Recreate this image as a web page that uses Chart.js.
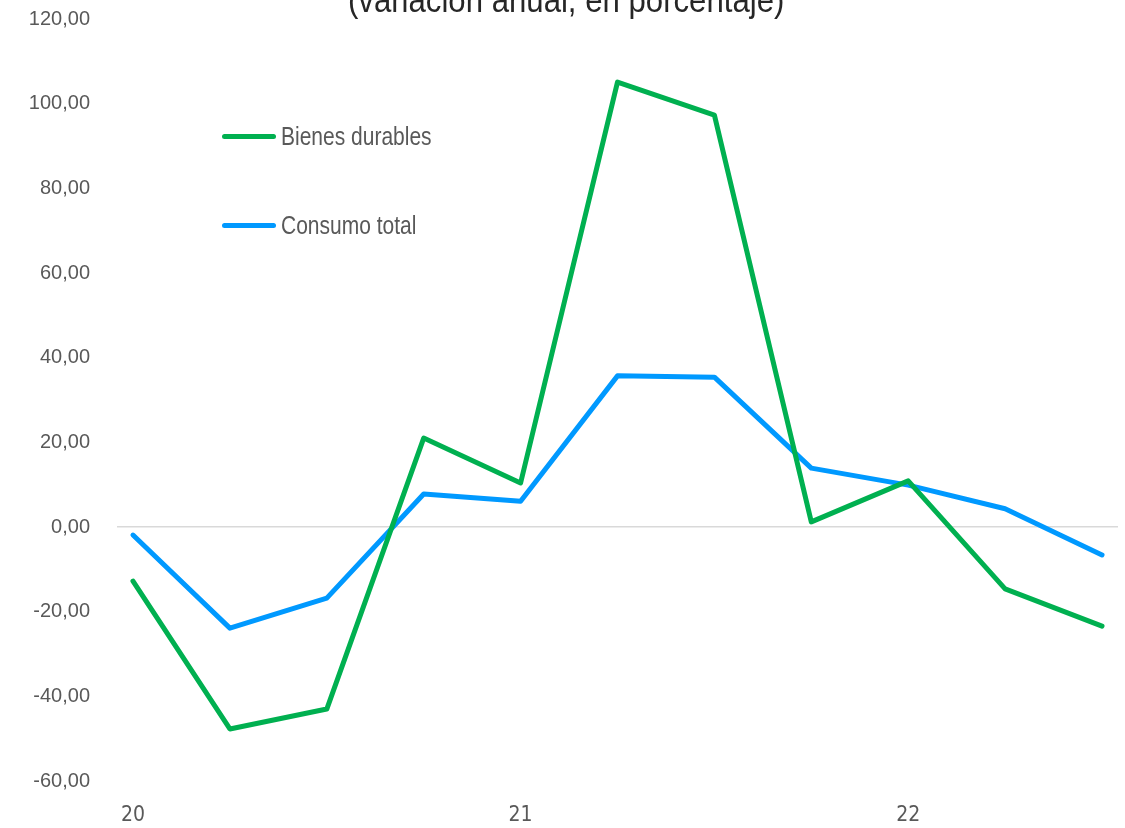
<!DOCTYPE html>
<html>
<head>
<meta charset="utf-8">
<script src="https://cdn.jsdelivr.net/npm/chart.js@4/dist/chart.umd.min.js"></script>
<style>
  html, body { margin: 0; padding: 0; background: #fff; }
  #wrap { position: relative; width: 1125px; height: 828px; overflow: hidden; }
  #title {
    position: absolute; left: 0; width: 1132px; top: -20px; text-align: center;
    font-family: "Liberation Sans", sans-serif; font-size: 35px; color: #262626;
  }
  #title span { display: inline-block; transform: scaleX(0.89); white-space: nowrap; }
  #legend { position: absolute; left: 222px; top: 0; font-family: "Liberation Sans", sans-serif; }
  .item { position: absolute; left: 0; display: flex; align-items: center; white-space: nowrap; font-size: 25px; color: #595959; }
  .swatch { width: 54px; height: 5px; border-radius: 3px; margin-right: 5px; }
  .txt { display: inline-block; transform: scaleX(0.84); transform-origin: left center; }
</style>
</head>
<body>
<div id="wrap">
  <canvas id="chart" width="1125" height="828"></canvas>
  <div id="title"><span>(variación anual, en porcentaje)</span></div>
  <div id="legend"></div>
</div>
<script>
// quarters 2020 Q1 .. 2022 Q3
const periods = ["20", "", "", "", "21", "", "", "", "22", "", ""];
const durables = [-12.8, -47.7, -43.0, 21.0, 10.4, 105.1, 97.3, 1.2, 10.9, -14.6, -23.4];
const totalConsumption = [-1.9, -23.9, -16.8, 7.8, 6.1, 35.7, 35.4, 13.9, 9.9, 4.3, -6.6];
const seriesNames = ["Bienes durables", "Consumo total"];
const yTicks = [-60, -40, -20, 0, 20, 40, 60, 80, 100, 120];

const colors = ["#00B050", "#0099FF"];

const toPoints = arr => arr.map((v, i) => ({ x: i, y: v }));

const ctx = document.getElementById("chart").getContext("2d");

const chart = new Chart(ctx, {
  type: "line",
  data: {
    datasets: [
      { label: seriesNames[0], data: toPoints(durables), borderColor: colors[0], backgroundColor: colors[0] },
      { label: seriesNames[1], data: toPoints(totalConsumption), borderColor: colors[1], backgroundColor: colors[1] }
    ]
  },
  options: {
    responsive: false,
    animation: false,
    layout: { padding: { top: 19, right: 7, left: 0, bottom: 0 } },
    elements: {
      line: { borderWidth: 5, tension: 0, borderCapStyle: "round", borderJoinStyle: "round" },
      point: { radius: 0 }
    },
    plugins: {
      legend: { display: false },
      tooltip: { enabled: false }
    },
    scales: {
      x: {
        type: "linear",
        min: -0.165,
        max: 10.165,
        afterBuildTicks: axis => { axis.ticks = periods.map((p, i) => ({ value: i })).filter((t, i) => periods[i] !== ""); },
        afterFit: axis => { axis.height = 47; axis.paddingLeft = 0; axis.paddingRight = 0; },
        grid: { display: false },
        border: { display: false },
        ticks: {
          callback: v => periods[v],
          autoSkip: false,
          maxRotation: 0,
          padding: 14,
          color: "#595959",
          font: { family: "'DejaVu Sans Condensed', 'Liberation Sans', sans-serif", size: 21 }
        }
      },
      y: {
        min: -60,
        max: 120,
        afterBuildTicks: axis => { axis.ticks = yTicks.map(v => ({ value: v })); },
        afterFit: axis => { axis.width = 117; axis.paddingTop = 0; axis.paddingBottom = 0; },
        border: { display: false },
        grid: {
          drawTicks: false,
          color: c => c.tick.value === 0 ? "#D9D9D9" : "rgba(0,0,0,0)",
          lineWidth: 1.5
        },
        ticks: {
          padding: 27,
          color: "#595959",
          font: { family: "'Liberation Sans', Arial, sans-serif", size: 20 },
          callback: v => v.toFixed(2).replace(".", ",")
        }
      }
    }
  }
});

// legend inside plot area
const legend = document.getElementById("legend");
const legendTops = [137, 226];
chart.data.datasets.forEach((ds, i) => {
  const item = document.createElement("div");
  item.className = "item";
  item.style.top = (legendTops[i] - 15) + "px";
  item.innerHTML = `<span class="swatch" style="background:${ds.borderColor}"></span><span class="txt">${ds.label}</span>`;
  legend.appendChild(item);
});
</script>
</body>
</html>
